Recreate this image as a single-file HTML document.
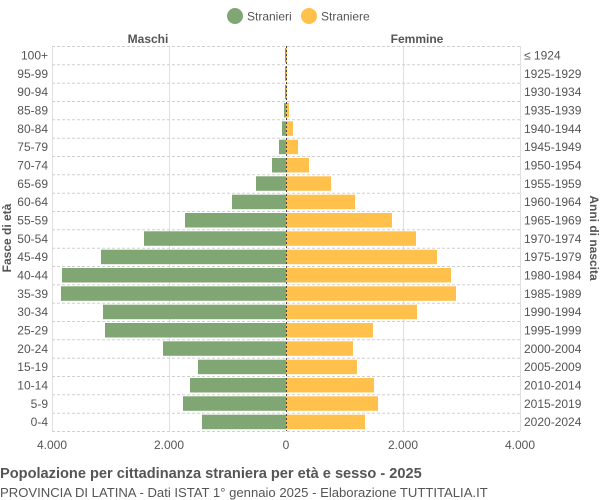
<!DOCTYPE html>
<html><head><meta charset="utf-8"><style>
body{margin:0;background:#fff;}
svg{display:block;font-family:"Liberation Sans",sans-serif;}
</style></head><body>
<svg width="600" height="500" viewBox="0 0 600 500">
<g stroke="#e0e0e0" stroke-width="1">
<line x1="52.5" y1="46" x2="52.5" y2="431"/><line x1="169.5" y1="46" x2="169.5" y2="431"/><line x1="403.5" y1="46" x2="403.5" y2="431"/><line x1="520.5" y1="46" x2="520.5" y2="431"/>
</g>
<g stroke="#d0d0d0" stroke-dasharray="3,2" stroke-width="1">
<line x1="52" y1="46.5" x2="520" y2="46.5"/><line x1="52" y1="64.8" x2="520" y2="64.8"/><line x1="52" y1="83.2" x2="520" y2="83.2"/><line x1="52" y1="101.5" x2="520" y2="101.5"/><line x1="52" y1="119.8" x2="520" y2="119.8"/><line x1="52" y1="138.2" x2="520" y2="138.2"/><line x1="52" y1="156.5" x2="520" y2="156.5"/><line x1="52" y1="174.8" x2="520" y2="174.8"/><line x1="52" y1="193.2" x2="520" y2="193.2"/><line x1="52" y1="211.5" x2="520" y2="211.5"/><line x1="52" y1="229.8" x2="520" y2="229.8"/><line x1="52" y1="248.2" x2="520" y2="248.2"/><line x1="52" y1="266.5" x2="520" y2="266.5"/><line x1="52" y1="284.8" x2="520" y2="284.8"/><line x1="52" y1="303.2" x2="520" y2="303.2"/><line x1="52" y1="321.5" x2="520" y2="321.5"/><line x1="52" y1="339.8" x2="520" y2="339.8"/><line x1="52" y1="358.2" x2="520" y2="358.2"/><line x1="52" y1="376.5" x2="520" y2="376.5"/><line x1="52" y1="394.8" x2="520" y2="394.8"/><line x1="52" y1="413.2" x2="520" y2="413.2"/><line x1="52" y1="431.5" x2="520" y2="431.5"/>
</g>
<g fill="#7fa673">
<rect x="285" y="48" width="1" height="14.5"/><rect x="285" y="66.3" width="1" height="14.5"/><rect x="285" y="84.7" width="1" height="14.5"/><rect x="284" y="103" width="2" height="14.5"/><rect x="282" y="121.3" width="4" height="14.5"/><rect x="279" y="139.7" width="7" height="14.5"/><rect x="272" y="158" width="14" height="14.5"/><rect x="256" y="176.3" width="30" height="14.5"/><rect x="232" y="194.7" width="54" height="14.5"/><rect x="185" y="213" width="101" height="14.5"/><rect x="144" y="231.3" width="142" height="14.5"/><rect x="101" y="249.7" width="185" height="14.5"/><rect x="62" y="268" width="224" height="14.5"/><rect x="61" y="286.3" width="225" height="14.5"/><rect x="103" y="304.7" width="183" height="14.5"/><rect x="105" y="323" width="181" height="14.5"/><rect x="163" y="341.3" width="123" height="14.5"/><rect x="198" y="359.7" width="88" height="14.5"/><rect x="190" y="378" width="96" height="14.5"/><rect x="183" y="396.3" width="103" height="14.5"/><rect x="202" y="414.7" width="84" height="14.5"/>
</g>
<g fill="#ffc04c">
<rect x="286" y="48" width="1" height="14.5"/><rect x="286" y="66.3" width="1" height="14.5"/><rect x="286" y="84.7" width="1" height="14.5"/><rect x="286" y="103" width="3" height="14.5"/><rect x="286" y="121.3" width="7" height="14.5"/><rect x="286" y="139.7" width="12" height="14.5"/><rect x="286" y="158" width="23" height="14.5"/><rect x="286" y="176.3" width="45" height="14.5"/><rect x="286" y="194.7" width="69" height="14.5"/><rect x="286" y="213" width="106" height="14.5"/><rect x="286" y="231.3" width="130" height="14.5"/><rect x="286" y="249.7" width="151" height="14.5"/><rect x="286" y="268" width="165" height="14.5"/><rect x="286" y="286.3" width="170" height="14.5"/><rect x="286" y="304.7" width="131" height="14.5"/><rect x="286" y="323" width="87" height="14.5"/><rect x="286" y="341.3" width="67" height="14.5"/><rect x="286" y="359.7" width="71" height="14.5"/><rect x="286" y="378" width="88" height="14.5"/><rect x="286" y="396.3" width="92" height="14.5"/><rect x="286" y="414.7" width="79" height="14.5"/>
</g>
<line x1="286.5" y1="46" x2="286.5" y2="431" stroke="#444" stroke-dasharray="2,2" stroke-width="1"/>
<g fill="#555" font-size="12" text-anchor="end">
<text x="48" y="59.5">100+</text><text x="48" y="77.8">95-99</text><text x="48" y="96.2">90-94</text><text x="48" y="114.5">85-89</text><text x="48" y="132.8">80-84</text><text x="48" y="151.2">75-79</text><text x="48" y="169.5">70-74</text><text x="48" y="187.8">65-69</text><text x="48" y="206.2">60-64</text><text x="48" y="224.5">55-59</text><text x="48" y="242.8">50-54</text><text x="48" y="261.2">45-49</text><text x="48" y="279.5">40-44</text><text x="48" y="297.8">35-39</text><text x="48" y="316.2">30-34</text><text x="48" y="334.5">25-29</text><text x="48" y="352.8">20-24</text><text x="48" y="371.2">15-19</text><text x="48" y="389.5">10-14</text><text x="48" y="407.8">5-9</text><text x="48" y="426.2">0-4</text>
</g>
<g fill="#555" font-size="12">
<text x="524" y="59.5">≤ 1924</text><text x="524" y="77.8">1925-1929</text><text x="524" y="96.2">1930-1934</text><text x="524" y="114.5">1935-1939</text><text x="524" y="132.8">1940-1944</text><text x="524" y="151.2">1945-1949</text><text x="524" y="169.5">1950-1954</text><text x="524" y="187.8">1955-1959</text><text x="524" y="206.2">1960-1964</text><text x="524" y="224.5">1965-1969</text><text x="524" y="242.8">1970-1974</text><text x="524" y="261.2">1975-1979</text><text x="524" y="279.5">1980-1984</text><text x="524" y="297.8">1985-1989</text><text x="524" y="316.2">1990-1994</text><text x="524" y="334.5">1995-1999</text><text x="524" y="352.8">2000-2004</text><text x="524" y="371.2">2005-2009</text><text x="524" y="389.5">2010-2014</text><text x="524" y="407.8">2015-2019</text><text x="524" y="426.2">2020-2024</text>
</g>
<g fill="#555" font-size="12" text-anchor="middle">
<text x="52" y="449">4.000</text><text x="169" y="449">2.000</text><text x="286" y="449">0</text><text x="403" y="449">2.000</text><text x="520" y="449">4.000</text>
</g>
<g fill="#555" font-size="12" font-weight="bold" text-anchor="middle">
<text x="148" y="43">Maschi</text><text x="417" y="43">Femmine</text>
<text transform="translate(11,238) rotate(-90)">Fasce di età</text>
<text transform="translate(590,238) rotate(90)">Anni di nascita</text>
</g>
<circle cx="235" cy="16" r="8" fill="#7fa673"/><text x="247" y="20.5" fill="#555" font-size="12">Stranieri</text>
<circle cx="309" cy="16" r="8" fill="#ffc04c"/><text x="321" y="20.5" fill="#555" font-size="12">Straniere</text>
<text x="0" y="478" fill="#555" font-size="14.6" font-weight="bold">Popolazione per cittadinanza straniera per età e sesso - 2025</text>
<text x="0" y="497" fill="#555" font-size="13.1">PROVINCIA DI LATINA - Dati ISTAT 1° gennaio 2025 - Elaborazione TUTTITALIA.IT</text>
</svg>
</body></html>
